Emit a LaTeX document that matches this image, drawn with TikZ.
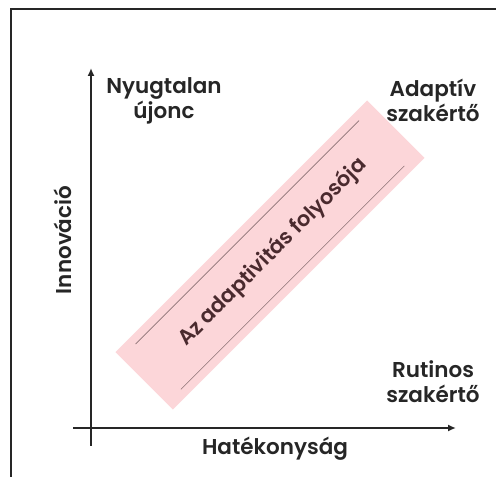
\documentclass[tikz,border=0pt]{standalone}
\usepackage{fontspec}
\setmainfont{Poppins}[BoldFont={Poppins SemiBold}]
\usepackage{tikz}
\usetikzlibrary{arrows.meta}
\definecolor{ink}{HTML}{262626}
\definecolor{band}{HTML}{FCD6D9}
\definecolor{bandtext}{HTML}{4A2A2E}
\definecolor{bandline}{HTML}{8C7275}
\tikzset{
  frame/.style={draw=ink, line width=2pt},
  axis/.style={draw=ink, line width=2pt, -{Latex[length=8pt,width=7pt]}},
  lab/.style={text=ink, font=\bfseries\fontsize{21.5}{25}\selectfont, align=center, inner sep=0pt},
  corr/.style={text=bandtext, font=\bfseries\fontsize{21}{23}\selectfont, inner sep=0pt},
  rail/.style={draw=bandline, line width=0.7pt},
}
\begin{document}
\begin{tikzpicture}[x=1pt,y=1pt]
  \useasboundingbox (0,0) rectangle (496,477);
  \fill[white] (0,0) rectangle (496,477);
  \draw[frame] (11,-2) -- (11,468) -- (498,468);
  % corridor band
  \begin{scope}[shift={(270,222)}, rotate=45]
    \fill[band] (-178,-40.5) rectangle (178,40.5);
    \draw[rail] (-158,32) -- (158,32);
    \draw[rail] (-158,-32) -- (158,-32);
    \node[corr, rotate=45] (corridor) at (4,0) {Az adaptivitás folyosója};
  \end{scope}
  % axes
  \coordinate (ybot) at (91,31);
  \coordinate (ytop) at (91,409);
  \coordinate (xleft) at (73,49);
  \coordinate (xright) at (456,49);
  \draw[axis] (ybot) -- (ytop);
  \draw[axis] (xleft) -- (xright);
  % labels
  \node[lab] (novice) at (164,376) {Nyugtalan\\újonc};
  \node[lab] (adaptive) at (433,377) {Adaptív\\szakértő};
  \node[lab] (routine) at (433,95) {Rutinos\\szakértő};
  \node[lab] (efficiency) at (275,28) {Hatékonyság};
  \node[lab, rotate=90] (innovation) at (63,237) {Innováció};
\end{tikzpicture}
\end{document}
